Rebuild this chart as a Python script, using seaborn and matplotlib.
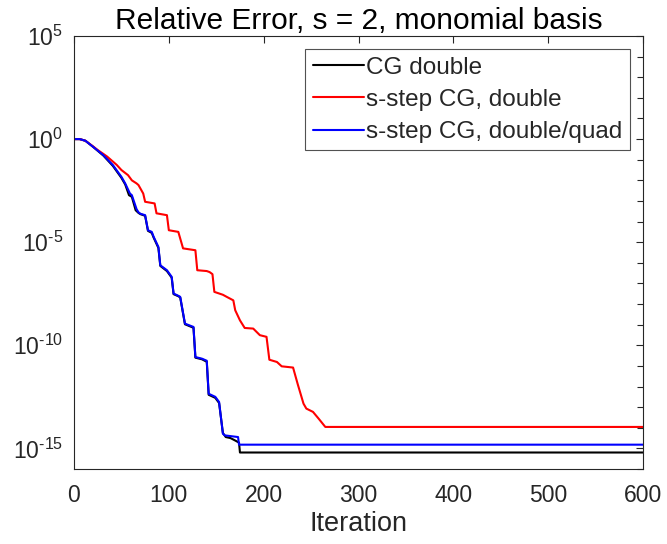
import numpy as np
import pandas as pd
import matplotlib
matplotlib.use("Agg")
import matplotlib.pyplot as plt
import seaborn as sns
from matplotlib.ticker import FixedLocator, FixedFormatter, NullFormatter

# ---- data (iteration, log10 of relative error) ----
cg_iter = [0, 6, 12, 20, 31, 41, 50, 54, 58, 61, 65, 68, 70, 75, 78, 82, 84, 89, 91,
           98, 103, 105, 110, 112, 117, 126, 128, 135, 140, 142, 149, 153, 157, 160,
           165, 170, 174, 175, 600]
cg_log = [0, 0, -0.08, -0.37, -0.80, -1.30, -1.88, -2.2, -2.72, -2.8, -3.45, -3.58,
          -3.64, -3.72, -4.45, -4.55, -4.78, -5.28, -6.15, -6.4, -6.72, -7.52, -7.62,
          -7.68, -8.98, -9.15, -10.6, -10.68, -10.8, -12.4, -12.55, -12.8, -14.25,
          -14.45, -14.5, -14.62, -14.72, -15.2, -15.2]

sq_iter = [0, 6, 12, 20, 31, 41, 50, 54, 59, 61, 66, 68, 70, 75, 78, 82, 84, 89, 91,
           98, 103, 105, 110, 112, 117, 126, 128, 135, 140, 142, 149, 153, 157, 159,
           173, 174, 600]
sq_log = [0, 0, -0.08, -0.37, -0.78, -1.26, -1.83, -2.15, -2.64, -2.72, -3.4, -3.55,
          -3.62, -3.69, -4.42, -4.5, -4.74, -5.23, -6.12, -6.36, -6.68, -7.49, -7.6,
          -7.65, -8.95, -9.11, -10.57, -10.65, -10.75, -12.35, -12.5, -12.75, -14.29,
          -14.37, -14.45, -14.82, -14.82]

sd_iter = [0, 6, 12, 20, 25, 31, 35, 40, 45, 50, 57, 61, 66, 68, 73, 75, 85, 87, 98,
           100, 110, 115, 128, 130, 140, 143, 146, 148, 157, 161, 168, 170, 175, 180,
           189, 196, 203, 206, 214, 219, 231, 236, 242, 245, 252, 258, 265, 600]
sd_log = [0, 0, -0.08, -0.35, -0.53, -0.72, -0.85, -1.05, -1.25, -1.5, -1.75, -2.0,
          -2.15, -2.23, -2.64, -3.04, -3.12, -3.6, -3.69, -4.42, -4.5, -5.3, -5.39,
          -6.36, -6.4, -6.45, -6.55, -7.41, -7.55, -7.65, -7.82, -8.3, -8.79, -9.16,
          -9.19, -9.51, -9.59, -10.7, -10.81, -11.02, -11.08, -11.9, -12.83, -13.07,
          -13.23, -13.56, -13.96, -13.96]

labels = ["CG double", "s-step CG, double", "s-step CG, double/quad"]
colors = ["#000000", "#ff0000", "#0000ff"]
ytick_exp = [5, 0, -5, -10, -15]
xticks = [0, 100, 200, 300, 400, 500, 600]

frames = []
for lab, it, lg in zip(labels, [cg_iter, sd_iter, sq_iter], [cg_log, sd_log, sq_log]):
    frames.append(pd.DataFrame({"Iteration": it, "err": 10.0 ** np.array(lg), "method": lab}))
df = pd.concat(frames, ignore_index=True)

sns.set_style("white")
plt.rcParams["font.family"] = ["Liberation Sans", "DejaVu Sans"]
plt.rcParams["mathtext.fontset"] = "custom"
plt.rcParams["mathtext.rm"] = "Liberation Sans"
plt.rcParams["mathtext.default"] = "regular"
plt.rcParams["axes.unicode_minus"] = False


def exp_label(e):
    s = str(e).replace("-", r"\text{-}")
    return r"$10^{%s}$" % s


fig = plt.figure(figsize=(6.67, 5.44), dpi=100)
ax = fig.add_axes([74 / 667, 1 - 469 / 544, (643 - 74) / 667, (469 - 36) / 544])

sns.lineplot(data=df, x="Iteration", y="err", hue="method", hue_order=labels,
             palette=colors, ax=ax, linewidth=1.5, estimator=None, sort=False)

ax.set_yscale("log")
ax.set_xlim(0, 600)
ax.set_ylim(1e-16, 1e5)
ax.xaxis.set_major_locator(FixedLocator(xticks))
ax.set_xticklabels([str(v) for v in xticks])
ax.yaxis.set_major_locator(FixedLocator([10.0 ** e for e in ytick_exp]))
ax.yaxis.set_major_formatter(FixedFormatter([exp_label(e) for e in ytick_exp]))
ax.yaxis.set_minor_locator(FixedLocator([10.0 ** e for e in range(-16, 6)]))
ax.yaxis.set_minor_formatter(NullFormatter())

tc = "#262626"
for s in ax.spines.values():
    s.set_color(tc)
    s.set_linewidth(0.8)
ax.tick_params(axis="both", which="both", direction="in", top=True, right=True,
               colors=tc, labelsize=16.5, width=0.8)
ax.tick_params(axis="both", which="major", length=5)
ax.tick_params(axis="x", which="major", pad=11)
ax.tick_params(axis="y", which="major", pad=8)
ax.tick_params(axis="y", which="minor", length=4)
ax.set_xlabel("Iteration", fontsize=19.5, color=tc, labelpad=3)
ax.set_ylabel("")
ax.set_title("Relative Error, s = 2, monomial basis", fontsize=21.5, color="#000000", pad=5)

leg = ax.legend(loc="upper right", fontsize=17.5, frameon=True, fancybox=False,
                edgecolor=tc, handlelength=2.1, handletextpad=0.1, borderpad=0.3,
                labelspacing=0.42, borderaxespad=0.55)
leg.get_frame().set_linewidth(0.8)

fig.savefig("out.png", dpi=100)
